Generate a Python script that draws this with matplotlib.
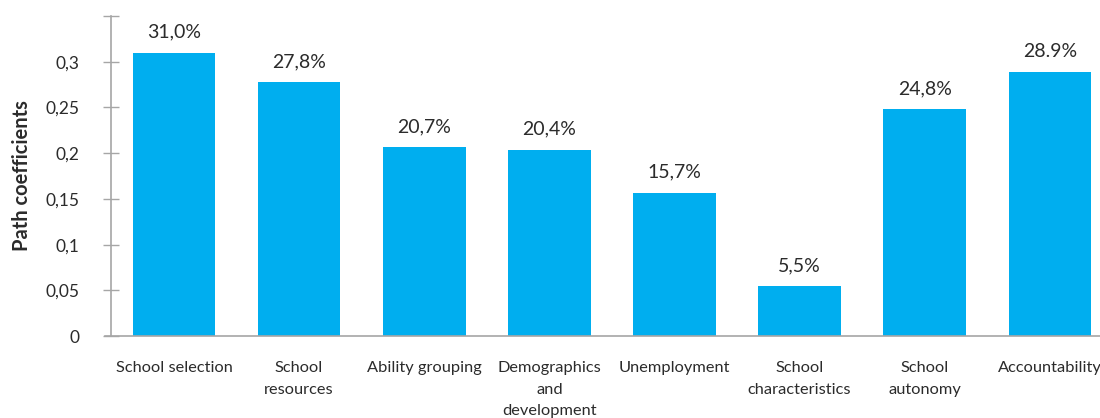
import matplotlib
matplotlib.use("Agg")
import matplotlib.pyplot as plt

categories = ["School selection", "School\nresources", "Ability grouping",
              "Demographics\nand\ndevelopment", "Unemployment",
              "School\ncharacteristics", "School\nautonomy", "Accountability"]
values = [0.310, 0.278, 0.207, 0.204, 0.157, 0.055, 0.248, 0.289]
value_labels = ["31,0%", "27,8%", "20,7%", "20,4%", "15,7%", "5,5%", "24,8%", "28.9%"]
yticks = [0, 0.05, 0.1, 0.15, 0.2, 0.25, 0.3, 0.35]
ytick_labels = ["0", "0,05", "0,1", "0,15", "0,2", "0,25", "0,3", ""]

plt.rcParams["font.family"] = ["Lato", "DejaVu Sans"]
text_color = "#2b2b2b"
axis_color = "#A6A6A6"
bar_color = "#00AEEF"

fig = plt.figure(figsize=(11, 4.18), dpi=100)
ax = fig.add_axes([0.1013, 0.196, 0.91, 0.7657])

x = range(len(values))
ax.bar(x, values, width=0.66, color=bar_color, zorder=2)
for xi, v, lab in zip(x, values, value_labels):
    ax.annotate(lab, (xi, v), xytext=(0, 8.5), textcoords="offset points",
                ha="center", va="bottom", fontsize=14, color=text_color)

ax.set_xlim(-0.5, len(values) - 0.5)
ax.set_ylim(0, 0.35)
ax.set_yticks(yticks)
ax.set_yticklabels(ytick_labels, fontsize=12.5, color=text_color)
ax.set_xticks(list(x))
ax.set_xticklabels(categories, fontsize=11.8, color=text_color, linespacing=1.7, va="top")
ax.tick_params(axis="x", length=0, pad=18)
ax.tick_params(axis="y", direction="inout", length=12, width=1, color=axis_color, pad=17)

for side in ["top", "right"]:
    ax.spines[side].set_visible(False)
for side in ["left", "bottom"]:
    ax.spines[side].set_color(axis_color)
    ax.spines[side].set_linewidth(1.2)
ax.spines["bottom"].set_bounds(-0.5 - 6 / 125, len(values) - 0.5)

ax.set_ylabel("Path coefficients", fontsize=14.5, fontweight="bold", color=text_color)
ax.yaxis.set_label_coords(-0.079, 0.5)

fig.savefig("out.png", dpi=100)
